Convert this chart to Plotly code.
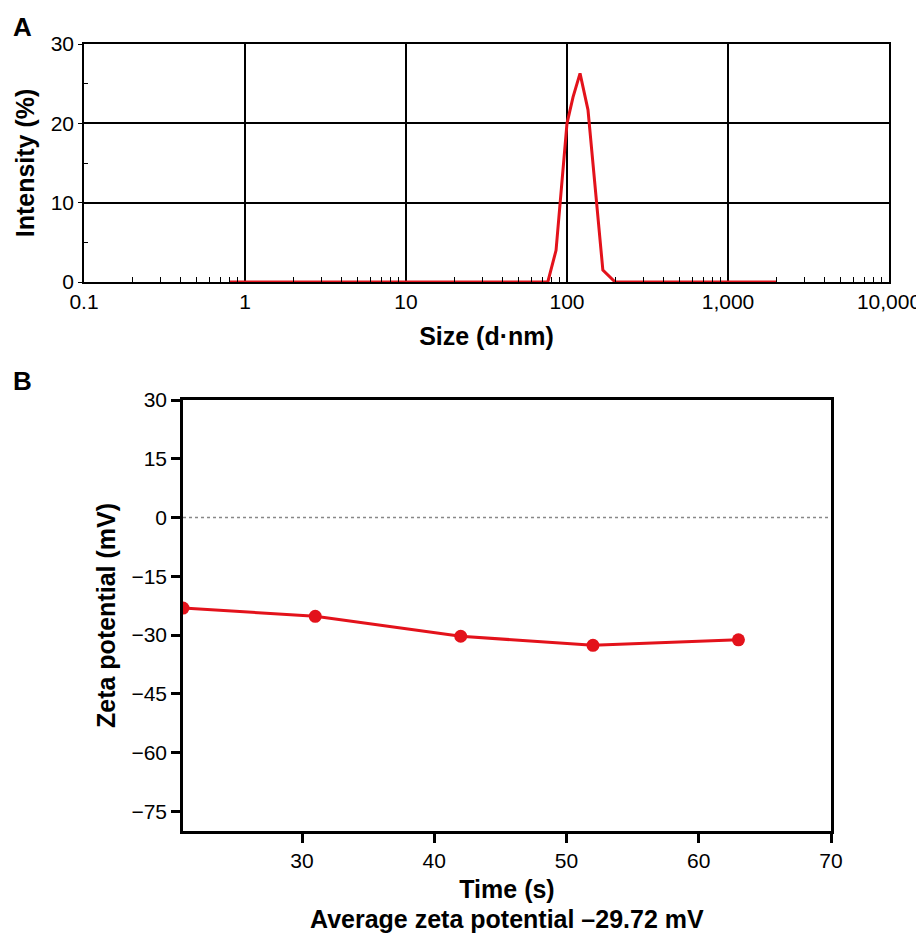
import plotly.graph_objects as go

# Panel A: size distribution by intensity
size_nm = [0.8, 70, 76, 85.5, 100, 109, 120.5, 135, 167, 199, 2000]
intensity_pct = [0, 0, 0, 4.0, 20.0, 23.3, 26.3, 21.7, 1.5, 0, 0]
size_tickvals = [0.1, 1, 10, 100, 1000, 10000]
size_ticktext = ["0.1", "1", "10", "100", "1,000", "10,000"]
intensity_ticks = [0, 10, 20, 30]

# Panel B: zeta potential over time
time_s = [21, 31, 42, 52, 63]
zeta_mv = [-23.1, -25.2, -30.3, -32.6, -31.2]
zeta_ticks = [30, 15, 0, -15, -30, -45, -60, -75]
zeta_ticktext = ["30", "15", "0", "\u221215", "\u221230", "\u221245", "\u221260", "\u221275"]
time_ticks = [30, 40, 50, 60, 70]

FONT = "Liberation Sans, Arial, sans-serif"
RED = "#e3121b"

# page body has an 8px margin; figure is sized so the page does not scroll
W, H, OFF = 916, 925, 8


def px(x):
    return (x - OFF) / W


def py(y):
    return 1 - (y - OFF) / H


minor_log = [m * 10 ** e for e in range(-1, 4) for m in range(2, 10)]

fig = go.Figure()
fig.add_trace(go.Scatter(x=size_nm, y=intensity_pct, mode="lines",
                         line=dict(color=RED, width=3), xaxis="x", yaxis="y",
                         showlegend=False))
fig.add_trace(go.Scatter(x=time_s, y=zeta_mv, mode="lines+markers",
                         line=dict(color=RED, width=3),
                         marker=dict(color=RED, size=13),
                         xaxis="x2", yaxis="y2", showlegend=False))

TICKF = dict(size=21)
TITLEF = 25

fig.update_layout(
    width=W, height=H,
    margin=dict(l=0, r=0, t=0, b=0),
    paper_bgcolor="white", plot_bgcolor="white",
    font=dict(family=FONT, color="black", size=21),
    xaxis=dict(domain=[px(84), px(889)], anchor="y", type="log", range=[-1, 4],
               tickvals=size_tickvals, ticktext=size_ticktext,
               showgrid=True, gridcolor="black", gridwidth=1.5,
               showline=True, linecolor="black", linewidth=1.5, mirror=True,
               ticks="", automargin=False,
               minor=dict(tickvals=minor_log, ticks="inside", ticklen=5,
                          tickcolor="black", showgrid=False),
               tickfont=TICKF,
               title=dict(text="<b>Size (d\u00b7nm)</b>", font=dict(size=TITLEF), standoff=16)),
    yaxis=dict(domain=[py(282), py(44)], anchor="x", range=[0, 30],
               tickvals=intensity_ticks, showgrid=True, gridcolor="black", gridwidth=1.5,
               showline=True, linecolor="black", linewidth=1.5, mirror=True,
               ticks="outside", ticklen=4, tickcolor="black", automargin=False,
               zeroline=False,
               minor=dict(tickvals=[5, 15, 25], ticks="inside", ticklen=4,
                          tickcolor="black", showgrid=False),
               tickfont=TICKF,
               title=dict(text="<b>Intensity (%)</b>", font=dict(size=TITLEF), standoff=9)),
    xaxis2=dict(domain=[px(183), px(831)], anchor="y2", range=[21, 70],
                tickvals=time_ticks, showgrid=False, zeroline=False,
                showline=True, linecolor="black", linewidth=2.5, mirror=True,
                ticks="outside", ticklen=9, tickwidth=2.5, tickcolor="black",
                automargin=False, tickfont=TICKF,
                title=dict(text="<b>Time (s)</b>", font=dict(size=TITLEF), standoff=10)),
    yaxis2=dict(domain=[py(831), py(400)], anchor="x2", range=[-80, 30],
                tickvals=zeta_ticks, ticktext=zeta_ticktext, showgrid=False, zeroline=False,
                showline=True, linecolor="black", linewidth=2.5, mirror=True,
                ticks="outside", ticklen=9, tickwidth=2.5, tickcolor="black",
                automargin=False, tickfont=TICKF,
                title=dict(text="<b>Zeta potential (mV)</b>", font=dict(size=TITLEF), standoff=9)),
    shapes=[dict(type="line", xref="x2 domain", yref="y2", x0=0, x1=1, y0=0, y1=0,
                 line=dict(color="#888888", width=1.5, dash="dot"), layer="below")],
    annotations=[
        dict(text="<b>A</b>", x=px(22), y=py(27), xref="paper", yref="paper",
             showarrow=False, font=dict(size=26), xanchor="center", yanchor="middle"),
        dict(text="<b>B</b>", x=px(22), y=py(381), xref="paper", yref="paper",
             showarrow=False, font=dict(size=26), xanchor="center", yanchor="middle"),
        dict(text="<b>Average zeta potential \u201329.72 mV</b>", x=px(507), y=py(919),
             xref="paper", yref="paper", showarrow=False, font=dict(size=TITLEF),
             xanchor="center", yanchor="middle"),
    ],
)

fig.write_html("out.html", default_width=f"{W}px", default_height=f"{H}px")
